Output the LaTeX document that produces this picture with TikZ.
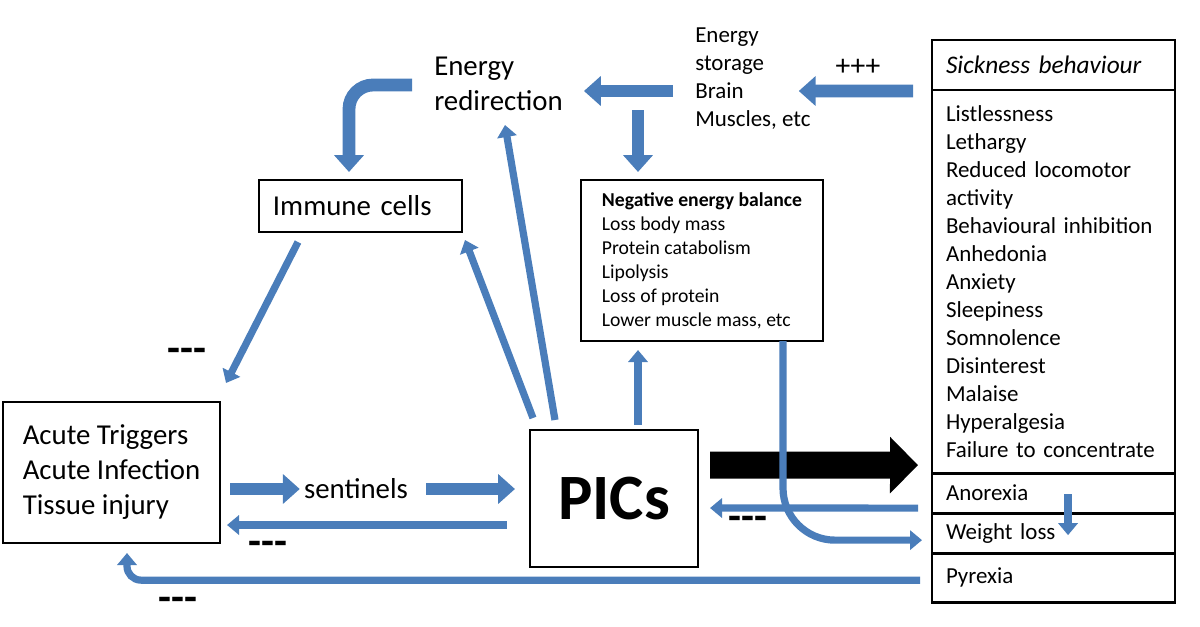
\documentclass[tikz,border=0pt]{standalone}
\usepackage{fontspec}
\setmainfont{Carlito}
\usepackage{tikz}
\usetikzlibrary{positioning}
\usetikzlibrary{arrows.meta}
\tikzset{>={Triangle}}
\definecolor{arrowblue}{HTML}{4A7DBA}
\newcommand{\bigtext}{\fontsize{20.5}{24.9}\selectfont}
\newcommand{\midtext}{\fontsize{16.3}{19.9}\selectfont}
\newcommand{\smalltext}{\fontsize{14}{17.1}\selectfont}
\newcommand{\picstext}{\fontsize{46}{50}\selectfont\bfseries}
\newcommand{\negs}{\mbox{-}\mbox{-}\mbox{-}}

\begin{document}
\begin{tikzpicture}[x=0.025cm, y=-0.025cm, box/.style={rectangle, draw=black, line width=2pt, outer sep=0pt}, sickrow/.style={box, minimum width=6.075cm, inner xsep=0.35cm, text width=5.375cm, align=left, font=\midtext}, freetext/.style={inner sep=0pt, align=left}, signs/.style={inner sep=0pt, font=\fontsize{30}{30}\selectfont\bfseries}, fat/.style={draw=arrowblue, line width=0.32cm, -{Triangle[width=0.72cm,length=0.42cm]}}, slim/.style={draw=arrowblue, line width=0.18cm, -{Triangle[width=0.48cm,length=0.3cm]}}]
    \useasboundingbox (0,0) rectangle (1200,626);

    %Nodes
    \node[box, minimum width=5.425cm, minimum height=3.525cm, align=left, font=\bigtext](acute) at (111.5,472.5){Acute Triggers\\Acute Infection\\Tissue injury};
    \node[freetext, font=\bigtext](sent) at (356,489){sentinels};
    \node[box, minimum width=4.2cm, minimum height=3.425cm, font=\picstext](pics) at (614,498.5){PICs};
    \node[box, minimum width=5.075cm, minimum height=1.3cm, inner xsep=0.35cm, text width=4.375cm, align=left, font=\bigtext](immune) at (360.5,206){Immune cells};
    \node[freetext, anchor=west, font=\bigtext](redir) at (434,84){Energy\\redirection};
    \node[freetext, anchor=west, font=\midtext](storage) at (695,79){Energy\\storage\\Brain\\Muscles, etc};
    \node[box, minimum width=6.05cm, minimum height=4.025cm, align=left, font=\smalltext](neb) at (702,260.5){\textbf{Negative energy balance}\\Loss body mass\\Protein catabolism\\Lipolysis\\Loss of protein\\Lower muscle mass, etc};
    \node[sickrow, anchor=north west, minimum height=1.25cm, font=\fontsize{18}{21}\selectfont\itshape](sickhead) at (932,40){Sickness behaviour};
    \node[sickrow, minimum height=9.575cm](sicklist)[below=0pt of sickhead]{Listlessness\\Lethargy\\Reduced locomotor\\activity\\Behavioural inhibition\\Anhedonia\\Anxiety\\Sleepiness\\Somnolence\\Disinterest\\Malaise\\Hyperalgesia\\Failure to concentrate};
    \node[sickrow, minimum height=1cm](anorexia)[below=0pt of sicklist]{Anorexia};
    \node[sickrow, minimum height=1cm](weight)[below=0pt of anorexia]{Weight loss};
    \node[sickrow, minimum height=1.225cm](pyrexia)[below=0pt of weight]{Pyrexia};
    \node[signs](neg_immune) at (187,355){\negs};
    \node[signs](neg_pics) at (268,548){\negs};
    \node[signs](neg_pyrexia) at (178,604){\negs};
    \node[signs](neg_anorexia) at (748,523){\negs};
    \node[inner sep=0pt, font=\fontsize{21}{24}\selectfont](plus) at (858,67){+++};

    %Lines
    \draw[black, line width=0.675cm, -{Triangle[width=1.375cm,length=0.7cm]}] ([shift={(12,-33.5)}]pics.east) -- ([shift={(-14,-8)}]sicklist.south west);
    \draw[fat, shorten <=0.25cm, shorten >=0.1cm] (acute.east |- sent.west) -- (sent.west);
    \draw[fat, shorten <=0.45cm, shorten >=0.375cm] (sent.east) -- (pics.west |- sent.east);
    \draw[slim] ([shift={(-23,26.5)}]pics.west) -- ([shift={(7,52.5)}]acute.east);
    \draw[slim] ([shift={(39,10)}]immune.south west) -- ([shift={(6,-19)}]acute.north east);
    \draw[slim] ([shift={(3,-12)}]pics.north west) -- ([shift={(3,8)}]immune.south east);
    \draw[slim] ([shift={(25,-10)}]pics.north west) -- ([shift={(71,41)}]redir.west);
    \draw[fat, rounded corners=0.6cm] ([shift={(-22,1)}]redir.west) -| ([shift={(-11.5,-8)}]immune.north);
    \draw[fat] ([shift={(-22,12)}]storage.west) -- ([shift={(21,7)}]redir.east);
    \draw[fat] ([shift={(-19,26)}]sickhead.west) -- ([shift={(-12,12)}]storage.east);
    \draw[fat] ([shift={(-57,31)}]storage.west) -- ([shift={(-64,-8)}]neb.north);
    \draw[slim] ([shift={(24,-5)}]pics.north) -- ([shift={(-64,9)}]neb.south);
    \draw[slim] ([shift={(-14,15)}]anorexia.west) -- ([shift={(12,9.5)}]pics.east);
    \draw[slim, rounded corners=1.3cm] ([shift={(81,0)}]neb.south) |- ([shift={(-10,7)}]weight.west);
    \draw[slim, rounded corners=0.35cm] ([shift={(-12,2.5)}]pyrexia.west) -| ([shift={(15.5,10)}]acute.south);
    \draw[slim] ([shift={(14.5,1)}]anorexia.center) -- ([shift={(14.5,2)}]weight.center);

    \end{tikzpicture}
\end{document}
